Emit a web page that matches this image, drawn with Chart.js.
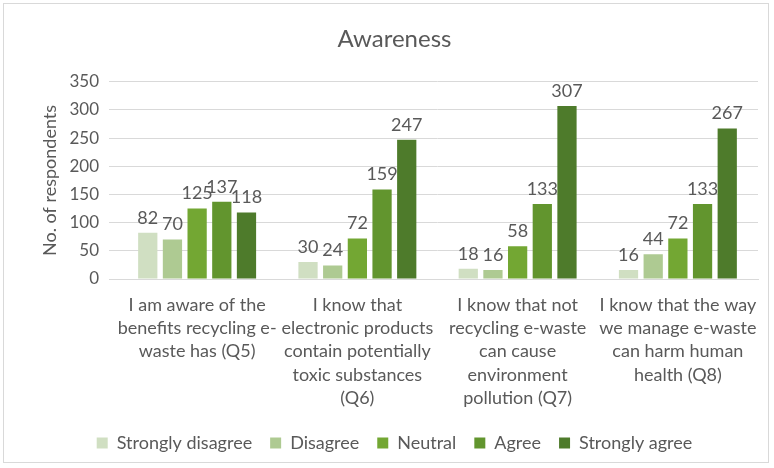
<!DOCTYPE html>
<html>
<head>
<meta charset="utf-8">
<script src="https://cdn.jsdelivr.net/npm/chart.js@4"></script>
<style>
  html, body { margin: 0; padding: 0; background: #ffffff; }
  .frame {
    position: absolute; left: 3px; top: 3px; width: 766px; height: 460px;
    border: 1px solid #d9d9d9; box-sizing: border-box; background: #fff;
  }
  #chart { position: absolute; left: 0; top: 0; }
</style>
</head>
<body>
<div class="frame"><canvas id="chart" width="764" height="458"></canvas></div>
<script>
// Chart data
const categories = [
    ['I am aware of the', 'benefits recycling e-', 'waste has (Q5)'],
    ['I know that', 'electronic products', 'contain potentially', 'toxic substances', '(Q6)'],
    ['I know that not', 'recycling e-waste', 'can cause', 'environment', 'pollution (Q7)'],
    ['I know that the way', 'we manage e-waste', 'can harm human', 'health (Q8)']
];
const seriesNames = ['Strongly disagree', 'Disagree', 'Neutral', 'Agree', 'Strongly agree'];
const stronglyDisagree = [82, 30, 18, 16];
const disagree = [70, 24, 16, 44];
const neutral = [125, 72, 58, 72];
const agree = [137, 159, 133, 133];
const stronglyAgree = [118, 247, 307, 267];
const yTicks = [0, 50, 100, 150, 200, 250, 300, 350];

const seriesColors = ['#D0DFC2', '#AECA92', '#73A733', '#62952E', '#4E7B2B'];
const fontFamily = 'Lato, "Open Sans", sans-serif';
const textColor = '#595959';

// Draw value labels above each bar
const valueLabels = {
    id: 'valueLabels',
    afterDatasetsDraw(chart) {
        const ctx = chart.ctx;
        ctx.save();
        ctx.font = '18px ' + fontFamily;
        ctx.fillStyle = textColor;
        ctx.textAlign = 'center';
        ctx.textBaseline = 'bottom';
        chart.data.datasets.forEach((ds, i) => {
            chart.getDatasetMeta(i).data.forEach((bar, j) => {
                ctx.fillText(ds.data[j], bar.x, bar.y - 6);
            });
        });
        ctx.restore();
    }
};

const allSeries = [stronglyDisagree, disagree, neutral, agree, stronglyAgree];

new Chart(document.getElementById('chart'), {
    type: 'bar',
    data: {
        labels: categories,
        datasets: allSeries.map((data, i) => ({
            label: seriesNames[i],
            data: data,
            backgroundColor: seriesColors[i],
            categoryPercentage: 0.77,
            barPercentage: 0.78
        }))
    },
    options: {
        responsive: false,
        animation: false,
        layout: { padding: { left: 27, right: 10, top: 0, bottom: 0 } },
        plugins: {
            title: {
                display: true,
                text: 'Awareness',
                color: textColor,
                font: { family: fontFamily, size: 24, weight: 'normal' },
                padding: { top: 21, bottom: 28 }
            },
            legend: {
                position: 'bottom',
                labels: {
                    color: textColor,
                    font: { family: fontFamily, size: 18 },
                    boxWidth: 11,
                    boxHeight: 11,
                    padding: 18
                }
            },
            tooltip: { enabled: false }
        },
        scales: {
            x: {
                grid: { display: false },
                border: { color: '#d9d9d9' },
                ticks: {
                    color: textColor,
                    font: { family: fontFamily, size: 18, lineHeight: 1.3 },
                    maxRotation: 0,
                    autoSkip: false,
                    padding: 6
                }
            },
            y: {
                min: 0,
                max: 350,
                afterBuildTicks: axis => { axis.ticks = yTicks.map(v => ({ value: v })); },
                afterFit: axis => { axis.width = 86; },
                grid: { color: '#d9d9d9' },
                border: { display: false },
                title: {
                    display: true,
                    text: 'No. of respondents',
                    color: textColor,
                    font: { family: fontFamily, size: 18 },
                    padding: { top: 8, bottom: 0 }
                },
                ticks: {
                    color: textColor,
                    font: { family: fontFamily, size: 17 },
                    padding: 10
                }
            }
        }
    },
    plugins: [valueLabels]
});
</script>
</body>
</html>
